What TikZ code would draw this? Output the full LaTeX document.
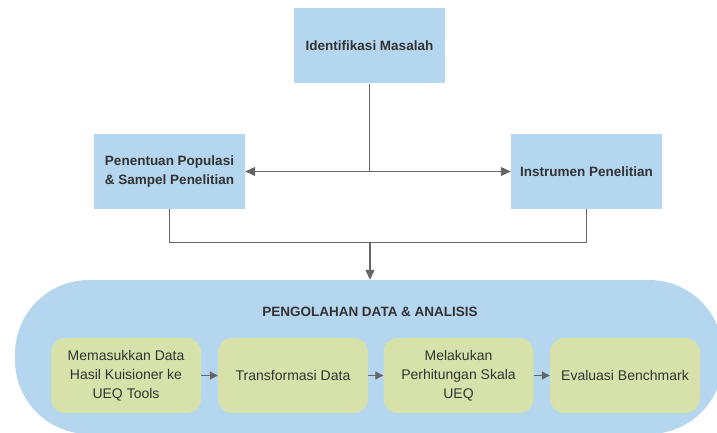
\documentclass[tikz,border=0pt]{standalone}
\usepackage{fontspec}
\setmainfont{Liberation Sans}
\usepackage{tikz}
\usetikzlibrary{arrows.meta,positioning,calc}
\definecolor{boxblue}{HTML}{B4D6EF}
\definecolor{boxgreen}{HTML}{D6E2A9}
\definecolor{linegrey}{HTML}{666666}
\definecolor{txtgrey}{HTML}{333333}

\begin{document}
\begin{tikzpicture}[x=1pt,y=-1pt,font=\fontsize{13.5}{18.5}\selectfont\bfseries,text=txtgrey,
  blk/.style={fill=boxblue,minimum width=151pt,minimum height=75pt,align=center,inner sep=0pt},
  sub/.style={fill=boxgreen,rounded corners=14pt,minimum width=150pt,minimum height=75pt,align=center,inner sep=0pt,font=\fontsize{14}{19}\selectfont},
  ln/.style={draw=linegrey,line width=1.1pt},
  m/.style={ln,-{Triangle[length=10pt,width=9pt]}},
  ms/.style={ln,-{Triangle[length=8pt,width=8pt]}}]
  \useasboundingbox (0,0) rectangle (717,433);
  \node[blk] (idm) at (369.5,46) {Identifikasi Masalah};
  \node[blk] (pop) at (169.5,171.5) {Penentuan Populasi\\\& Sampel Penelitian};
  \node[blk] (ins) at (586.5,171.5) {Instrumen Penelitian};
  \node[fill=boxblue,minimum width=708pt,minimum height=154pt,rounded corners=74pt] (olah) at (369,357) {};
  \node (judul) at (370,312) {PENGOLAHAN DATA \& ANALISIS};
  \foreach \i/\x/\t in {1/126/{Memasukkan Data\\Hasil Kuisioner ke\\UEQ Tools},2/293/{Transformasi Data},3/458.5/{Melakukan\\Perhitungan Skala\\UEQ},4/625/{Evaluasi Benchmark}}
    \node[sub] (s\i) at (\x,375.5) {\t};
  \foreach \a/\b in {1/2,2/3,3/4}
    \draw[ms] (s\a) -- (s\b);
  % branches from the top box
  \coordinate (jn) at (idm.south |- pop.east);
  \draw[ln] (idm) -- (jn);
  \draw[m] (jn) -- (pop);
  \draw[m] (jn) -- (ins);
  % merge into the processing block
  \coordinate (bt) at (370,242.5);
  \draw[ln] (pop.south) |- (bt) -| (ins.south);
  \draw[m] (bt) -- (bt |- olah.north);
\end{tikzpicture}
\end{document}
